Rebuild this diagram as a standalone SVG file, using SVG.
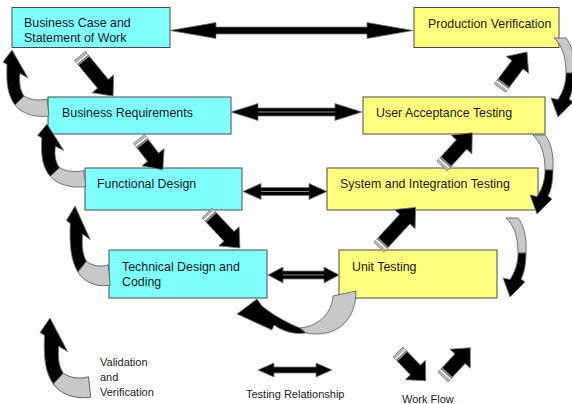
<svg xmlns="http://www.w3.org/2000/svg" width="572" height="404" viewBox="0 0 572 404">
<style>
.box{stroke:#4a4a4a;stroke-width:1}
.cy{fill:#80ffff}
.ye{fill:#ffff80}
.t{font-family:"Liberation Sans",Arial,sans-serif;font-size:12.4px;fill:#1a1a1a}
.lt{font-family:"Liberation Sans",Arial,sans-serif;font-size:11px;fill:#1a1a1a}
.blk{fill:#000;stroke:#777;stroke-width:0.8;stroke-linejoin:round}
.gry{fill:#c8c8c8;stroke:#555;stroke-width:0.8;stroke-linejoin:round}
.mid{stroke:#8a8a8a;stroke-width:1.2;fill:none}
</style>
<defs>
<g id="curveC">
<path class="gry" d="M12,46 C18,50 27,51 35,49 L37,66 C22,68 9,63 3,55 Z"/>
<path class="blk" d="M0,0 L16,28 L8,23.5 C7,33 8,40 12,46 L3,55 C-4,46 -6,34 -5,14.5 L-9,12 Z"/>
</g>
<g id="curveD">
<path class="gry" d="M-4,-79 L8,-79 C13,-73 17,-62 16,-44 L8,-44 C8,-60 4,-72 -4,-79 Z"/>
<path class="blk" d="M8,-44 L16,-44 C16,-32 14,-23 11,-18 L15,-15 L0,0 L-7,-19 L0,-17.5 C5,-25 8,-34 8,-44 Z"/>
</g>
<g id="tail">
<rect x="0" y="-7" width="2.5" height="14" fill="#b5b5b5"/>
<rect x="2.5" y="-7" width="2" height="14" fill="#fff"/>
<rect x="4.5" y="-7" width="2" height="14" fill="#8a8a8a"/>
</g>
</defs>

<g id="node-business-case">
<rect class="box cy" x="12" y="7.5" width="158" height="40"/>
<text class="t" x="24" y="26.5">Business Case and</text>
<text class="t" x="24" y="42">Statement of Work</text>
</g>
<g id="node-business-requirements">
<rect class="box cy" x="48" y="97" width="183" height="37"/>
<text class="t" x="62" y="116.5">Business Requirements</text>
</g>
<g id="node-functional-design">
<rect class="box cy" x="85" y="168" width="157" height="42"/>
<text class="t" x="97" y="188.3">Functional Design</text>
</g>
<g id="node-technical-design">
<rect class="box cy" x="109" y="250" width="158" height="48"/>
<text class="t" x="122" y="270.5">Technical Design and</text>
<text class="t" x="122" y="285.7">Coding</text>
</g>
<g id="node-production-verification">
<rect class="box ye" x="414" y="7.5" width="145" height="40"/>
<text class="t" x="428" y="28">Production Verification</text>
</g>
<g id="node-user-acceptance">
<rect class="box ye" x="363" y="97" width="182" height="37"/>
<text class="t" x="376" y="117">User Acceptance Testing</text>
</g>
<g id="node-system-integration">
<rect class="box ye" x="327" y="168" width="211" height="42"/>
<text class="t" x="340" y="188.3">System and Integration Testing</text>
</g>
<g id="node-unit-testing">
<rect class="box ye" x="339" y="250" width="158" height="48"/>
<text class="t" x="352" y="270.5">Unit Testing</text>
</g>

<g id="connectors">
<!-- testing relationships -->
<path class="blk" d="M170,30.5 L216,22.5 L216,27 H367 L367,22.5 L413,30.5 L367,38.5 L367,34 H216 L216,38.5 Z"/>
<path class="blk" d="M231,112 L258,103.5 L258,108 H335 L335,103.5 L362,112 L335,120.5 L335,116 H258 L258,120.5 Z"/>
<line class="mid" x1="258" y1="112" x2="335" y2="112"/>
<path class="blk" d="M243,191.5 L261,183.5 L261,187.5 H309 L309,183.5 L327,191.5 L309,199.5 L309,195.5 H261 L261,199.5 Z"/>
<line class="mid" x1="261" y1="191.5" x2="309" y2="191.5"/>
<path class="blk" d="M268,275 L283,267 L283,271 H324 L324,267 L339,275 L324,283 L324,279 H283 L283,283 Z"/>
<line class="mid" x1="283" y1="275" x2="324" y2="275"/>

<!-- work flow arrows -->
<g transform="translate(80,56) rotate(50.5)"><path class="blk" d="M0,-7 H36 V-14 L52,0 L36,14 V7 H0 Z"/><use href="#tail"/></g>
<g transform="translate(139,139) rotate(52.3)"><path class="blk" d="M0,-7 H23 V-14 L39,0 L23,14 V7 H0 Z"/><use href="#tail"/></g>
<g transform="translate(207,213) rotate(46.7)"><path class="blk" d="M0,-7 H32 V-14 L48,0 L32,14 V7 H0 Z"/><use href="#tail"/></g>
<g transform="translate(379,247) rotate(-47.2)"><path class="blk" d="M0,-7 H38 V-14 L54,0 L38,14 V7 H0 Z"/><use href="#tail"/></g>
<g transform="translate(442,166) rotate(-47.7)"><path class="blk" d="M0,-7 H29 V-14 L45,0 L29,14 V7 H0 Z"/><use href="#tail"/></g>
<g transform="translate(500,88) rotate(-53.1)"><path class="blk" d="M0,-7 H29 V-14 L45,0 L29,14 V7 H0 Z"/><use href="#tail"/></g>

<!-- validation and verification curves -->
<use href="#curveC" transform="translate(12,50)"/>
<use href="#curveC" transform="translate(47,124) scale(1.05,0.95)"/>
<use href="#curveC" transform="translate(75,206) scale(0.95,1.2)"/>
<use href="#curveD" transform="translate(558,117)"/>
<use href="#curveD" transform="translate(537,214)"/>
<use href="#curveD" transform="translate(510,297)"/>
<path class="gry" d="M333,296 L356,291 C356,310 348,326 330,332 C320,335 312,334 306,333 L300,328 C320,326 332,312 333,296 Z"/>
<path class="blk" d="M306,333 C292,335 281,330 274,325 L272,330 L237,314 L257,299 L262,306 C272,314 285,322 300,328 Z"/>
</g>

<g id="legend">
<use href="#curveC" transform="translate(50,318) scale(1.1,1.2)"/>
<text class="lt" x="100" y="366">Validation</text>
<text class="lt" x="100" y="381">and</text>
<text class="lt" x="100" y="396">Verification</text>
<path class="blk" d="M258,370 L274,363 L274,367 H316 L316,363 L332,370 L316,377 L316,373 H274 L274,377 Z"/>
<text class="lt" x="246" y="398">Testing Relationship</text>
<g transform="translate(398,352) rotate(46)"><path class="blk" d="M0,-7 H25 V-14 L40,0 L25,14 V7 H0 Z"/><use href="#tail"/></g>
<g transform="translate(443,377) rotate(-47)"><path class="blk" d="M0,-7 H25 V-14 L40,0 L25,14 V7 H0 Z"/><use href="#tail"/></g>
<text class="lt" x="402" y="403">Work Flow</text>
</g>
</svg>
